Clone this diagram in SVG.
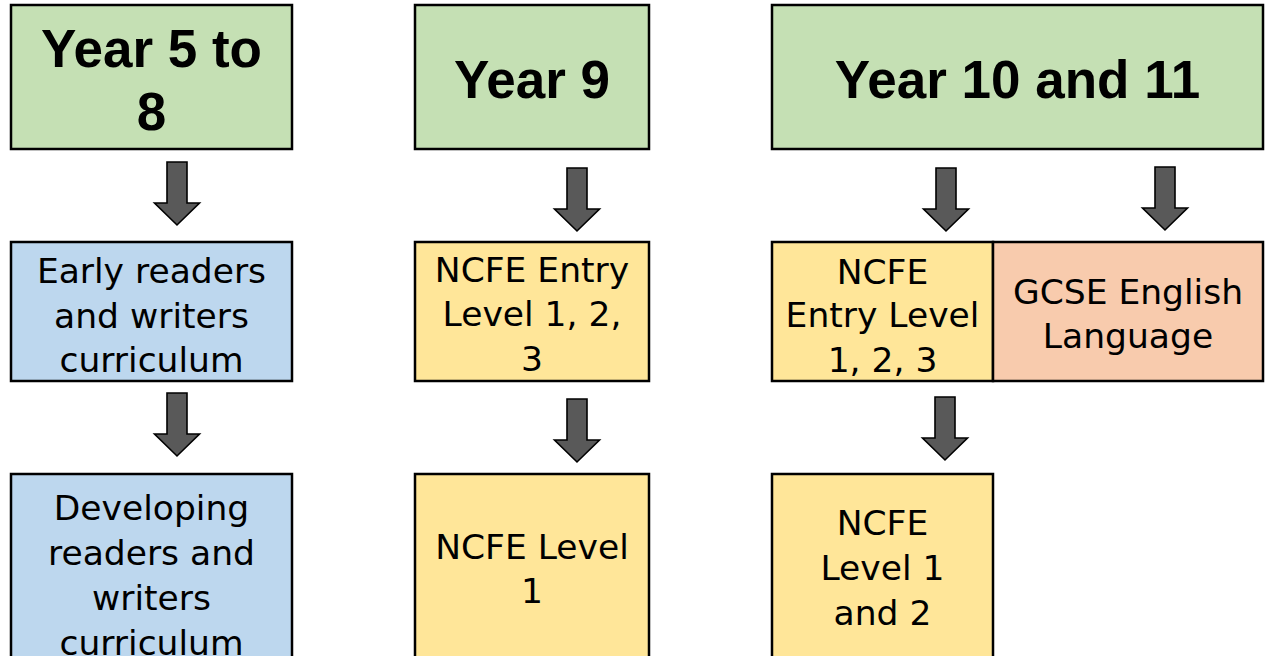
<svg xmlns="http://www.w3.org/2000/svg" width="1268" height="656" viewBox="0 0 1268 656">
<defs>
<style>
.box{stroke:#000;stroke-width:2.5}
.g{fill:#C5E0B4}.b{fill:#BDD7EE}.y{fill:#FFE699}.o{fill:#F8CBAD}
.h{font-family:"Liberation Sans",Arial,sans-serif;font-weight:bold;font-size:53px;fill:#000;text-anchor:middle}
.t{font-family:"DejaVu Sans","Liberation Sans",sans-serif;font-size:34.5px;fill:#000;text-anchor:middle}
.arr{fill:#595959;stroke:#000;stroke-width:1.6;stroke-linejoin:miter}
</style>
<path id="ar" d="M-10,0 H10 V41 H22.5 L0,63 L-22.5,41 H-10 Z"/>
</defs>
<rect width="1268" height="656" fill="#fff"/>

<g id="n-year5to8">
<rect class="box g" x="11" y="5" width="281" height="144"/>
<text class="h" x="151.5" y="67">Year 5 to</text>
<text class="h" x="151.5" y="130">8</text>
</g>
<g id="n-year9">
<rect class="box g" x="415" y="5" width="234" height="144"/>
<text class="h" x="532" y="98">Year 9</text>
</g>
<g id="n-year10and11">
<rect class="box g" x="772" y="5" width="491" height="144"/>
<text class="h" x="1017.5" y="98">Year 10 and 11</text>
</g>

<g id="n-early">
<rect class="box b" x="11" y="242" width="281" height="139"/>
<text class="t" x="151.5" y="283">Early readers</text>
<text class="t" x="151.5" y="328">and writers</text>
<text class="t" x="151.5" y="372">curriculum</text>
</g>
<g id="n-entry9">
<rect class="box y" x="415" y="242" width="234" height="139"/>
<text class="t" x="532" y="282">NCFE Entry</text>
<text class="t" x="532" y="326">Level 1, 2,</text>
<text class="t" x="532" y="371">3</text>
</g>
<g id="n-entry1011">
<rect class="box y" x="772" y="242" width="221" height="139"/>
<text class="t" x="882.5" y="284">NCFE</text>
<text class="t" x="882.5" y="327">Entry Level</text>
<text class="t" x="882.5" y="372">1, 2, 3</text>
</g>
<g id="n-gcse">
<rect class="box o" x="993" y="242" width="270" height="139"/>
<text class="t" x="1128" y="304">GCSE English</text>
<text class="t" x="1128" y="348">Language</text>
</g>

<g id="n-developing">
<rect class="box b" x="11" y="474" width="281" height="200"/>
<text class="t" x="151.5" y="520">Developing</text>
<text class="t" x="151.5" y="565">readers and</text>
<text class="t" x="151.5" y="610">writers</text>
<text class="t" x="151.5" y="655">curriculum</text>
</g>
<g id="n-level1">
<rect class="box y" x="415" y="474" width="234" height="200"/>
<text class="t" x="532" y="559">NCFE Level</text>
<text class="t" x="532" y="603">1</text>
</g>
<g id="n-level12">
<rect class="box y" x="772" y="474" width="221" height="200"/>
<text class="t" x="882.5" y="535">NCFE</text>
<text class="t" x="882.5" y="580">Level 1</text>
<text class="t" x="882.5" y="625">and 2</text>
</g>

<g id="connectors">
<use href="#ar" class="arr" x="177" y="162"/>
<use href="#ar" class="arr" x="177" y="393"/>
<use href="#ar" class="arr" x="577" y="168"/>
<use href="#ar" class="arr" x="577" y="399"/>
<use href="#ar" class="arr" x="946" y="168"/>
<use href="#ar" class="arr" x="1165" y="167"/>
<use href="#ar" class="arr" x="945" y="397"/>
</g>
</svg>
